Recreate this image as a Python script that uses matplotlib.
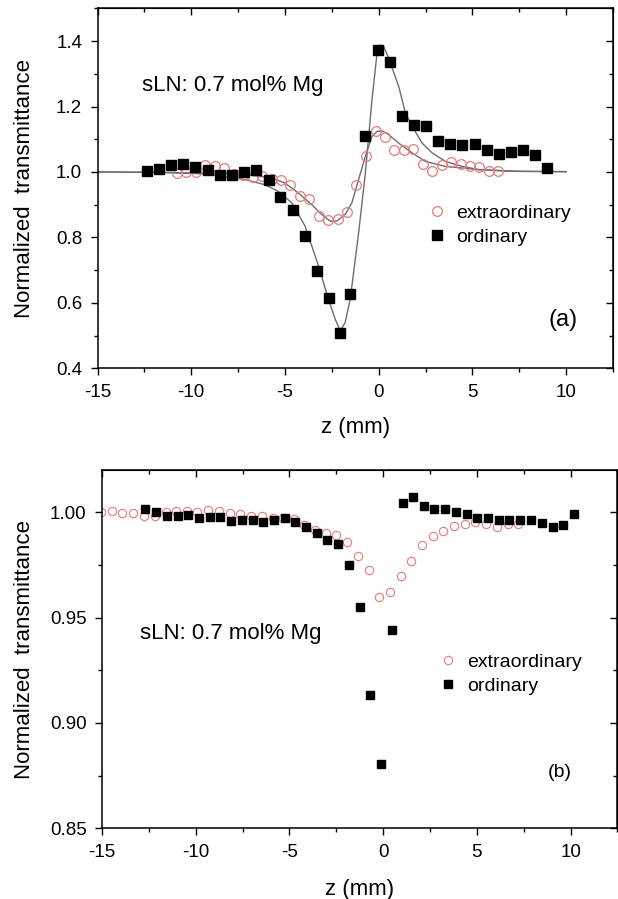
"""Z-scan traces for sLN: 0.7 mol% Mg, panels (a) and (b)."""

import matplotlib
matplotlib.use("Agg")
import matplotlib.pyplot as plt
from matplotlib.ticker import MultipleLocator, FormatStrFormatter

plt.rcParams["font.family"] = ["Liberation Sans", "DejaVu Sans"]
plt.rcParams["axes.unicode_minus"] = False

# panel (a): ordinary (squares) and extraordinary (circles) data plus fit curves
a_ord_z = [-12.37, -11.73, -11.07, -10.43, -9.78, -9.10, -8.48, -7.84, -7.19, -6.55,
           -5.87, -5.25, -4.59, -3.95, -3.30, -2.64, -2.09, -1.52, -0.73, -0.04,
           0.61, 1.23, 1.89, 2.53, 3.18, 3.82, 4.46, 5.12, 5.77, 6.41, 7.07, 7.71, 8.35, 8.98]
a_ord_t = [1.004, 1.009, 1.020, 1.024, 1.015, 1.006, 0.992, 0.990, 0.999, 1.005,
           0.974, 0.923, 0.883, 0.803, 0.697, 0.615, 0.509, 0.628, 1.109, 1.373,
           1.335, 1.171, 1.145, 1.139, 1.095, 1.087, 1.081, 1.085, 1.067, 1.056, 1.060, 1.066, 1.051, 1.012]
a_ext_z = [-10.77, -10.27, -9.77, -9.27, -8.75, -8.23, -7.73, -7.23, -6.70, -6.20,
           -5.71, -5.21, -4.71, -4.21, -3.71, -3.20, -2.68, -2.18, -1.68, -1.20,
           -0.66, -0.16, 0.34, 0.84, 1.34, 1.84, 2.36, 2.86, 3.36, 3.88, 4.38, 4.88, 5.36, 5.88, 6.39]
a_ext_t = [0.996, 1.000, 1.000, 1.020, 1.017, 1.012, 0.995, 0.992, 0.985, 0.987,
           0.980, 0.976, 0.961, 0.926, 0.916, 0.866, 0.853, 0.856, 0.878, 0.959,
           1.048, 1.124, 1.107, 1.068, 1.068, 1.069, 1.025, 1.004, 1.022, 1.029, 1.025, 1.017, 1.014, 1.004, 1.004]
a_ord_fit_z = [-15, -12, -10, -8.93, -7.14, -6.07, -5.36, -4.64, -3.93, -3.21, -2.68, -2.32, -2.05,
               -1.79, -1.52, -1.07, -0.71, -0.36, -0.09, 0.09, 0.27, 0.54, 1.07, 1.43, 1.79,
               2.32, 2.86, 3.57, 4.46, 5.36, 7.14, 10.0]
a_ord_fit_t = [1.000, 0.999, 0.996, 0.992, 0.977, 0.961, 0.941, 0.906, 0.835, 0.713, 0.611, 0.550, 0.515,
               0.540, 0.611, 0.814, 0.997, 1.220, 1.362, 1.388, 1.383, 1.347, 1.261, 1.180, 1.139,
               1.088, 1.058, 1.032, 1.017, 1.007, 1.002, 1.001]
a_ext_fit_z = [-15, -12, -9, -7.14, -5.71, -5.0, -4.29, -3.57, -3.04, -2.59, -2.23, -1.79, -1.43,
               -1.07, -0.71, -0.36, -0.09, 0.18, 0.54, 1.07, 1.79, 2.5, 3.57, 5.36, 7.5, 10.0]
a_ext_fit_t = [1.000, 0.999, 0.996, 0.992, 0.982, 0.966, 0.936, 0.900, 0.870, 0.850, 0.850, 0.870, 0.906,
               0.977, 1.048, 1.109, 1.124, 1.126, 1.114, 1.088, 1.058, 1.032, 1.017, 1.007, 1.002, 1.001]

# panel (b)
b_ord_z = [-12.71, -12.11, -11.52, -10.95, -10.39, -9.82, -9.25, -8.70, -8.11, -7.54,
           -6.96, -6.39, -5.80, -5.25, -4.68, -4.11, -3.54, -2.98, -2.41, -1.82,
           -1.25, -0.68, -0.09, 0.46, 1.04, 1.57, 2.18, 2.73, 3.32, 3.89,
           4.46, 5.02, 5.59, 6.16, 6.73, 7.32, 7.89, 8.48, 9.05, 9.62, 10.2]
b_ord_t = [1.0013, 1.0003, 0.9983, 0.9984, 0.9987, 0.9973, 0.9976, 0.9976, 0.9956, 0.9965,
           0.9961, 0.9953, 0.9961, 0.9972, 0.9953, 0.9929, 0.9902, 0.9869, 0.9850, 0.9747,
           0.9551, 0.9134, 0.8807, 0.9441, 1.0043, 1.0074, 1.0031, 1.0013, 1.0013, 1.0000,
           0.9992, 0.9973, 0.9973, 0.9964, 0.9965, 0.9964, 0.9961, 0.9950, 0.9930, 0.9940, 0.9990]
b_ext_z = [-15.03, -14.46, -13.93, -13.36, -12.77, -12.18, -11.61, -11.04, -10.48, -9.91, -9.32,
           -8.75, -8.18, -7.63, -7.05, -6.46, -5.89, -5.32, -4.77, -4.20, -3.63,
           -3.04, -2.50, -1.91, -1.34, -0.77, -0.21, 0.36, 0.93, 1.48, 2.05,
           2.64, 3.21, 3.79, 4.38, 4.91, 5.50, 6.07, 6.66, 7.20]
b_ext_t = [1.0000, 1.0005, 0.9995, 0.9995, 0.9984, 0.9984, 1.0000, 1.0005, 1.0005, 1.0000, 1.0008,
           1.0005, 0.9995, 0.9989, 0.9984, 0.9984, 0.9973, 0.9973, 0.9969, 0.9940, 0.9917,
           0.9901, 0.9890, 0.9858, 0.9791, 0.9725, 0.9599, 0.9622, 0.9696, 0.9769, 0.9843,
           0.9887, 0.9910, 0.9932, 0.9942, 0.9953, 0.9942, 0.9929, 0.9942, 0.9945]

EXT_COLOR = "#e47c7c"
FIT_COLOR = "#6e6e6e"


def style_axis(ax, ymajor, yminor, yfmt, label_x, label_y):
    ax.set_xlim(-15, 12.5)
    ax.xaxis.set_major_locator(MultipleLocator(5))
    ax.xaxis.set_minor_locator(MultipleLocator(2.5))
    ax.yaxis.set_major_locator(MultipleLocator(ymajor))
    ax.yaxis.set_minor_locator(MultipleLocator(yminor))
    ax.yaxis.set_major_formatter(FormatStrFormatter(yfmt))
    ax.tick_params(which="both", direction="out", top=False, right=False, width=1.0, labelsize=13.5)
    ax.tick_params(which="major", length=5, pad=6)
    ax.tick_params(which="minor", length=3)
    for spine in ax.spines.values():
        spine.set_linewidth(1.1)
    top = ax.secondary_xaxis("top")
    top.xaxis.set_major_locator(MultipleLocator(5))
    top.xaxis.set_minor_locator(MultipleLocator(2.5))
    top.tick_params(which="both", direction="in", labeltop=False, width=1.0)
    top.tick_params(which="major", length=5)
    top.tick_params(which="minor", length=3)
    right = ax.secondary_yaxis("right")
    right.yaxis.set_major_locator(MultipleLocator(ymajor))
    right.yaxis.set_minor_locator(MultipleLocator(yminor))
    right.tick_params(which="both", direction="in", labelright=False, width=1.0)
    right.tick_params(which="major", length=5)
    right.tick_params(which="minor", length=3)
    ax.set_xlabel("z (mm)", fontsize=16)
    ax.set_ylabel("Normalized  transmittance", fontsize=16)
    ax.xaxis.set_label_coords(0.5, label_y)
    ax.yaxis.set_label_coords(label_x, 0.5)


fig = plt.figure(figsize=(6.18, 8.99), dpi=100)

ax1 = fig.add_axes([0.1578, 0.5903, 0.8341, 0.4004])
ax1.plot(a_ord_fit_z, a_ord_fit_t, color=FIT_COLOR, lw=1.0, zorder=1)
ax1.plot(a_ext_fit_z, a_ext_fit_t, color=FIT_COLOR, lw=1.0, zorder=1)
ax1.plot(a_ext_z, a_ext_t, ls="none", marker="o", ms=7, mfc="none", mec=EXT_COLOR, mew=0.9,
         label="extraordinary", zorder=2)
ax1.plot(a_ord_z, a_ord_t, ls="none", marker="s", ms=6.5, color="black", label="ordinary", zorder=3)
ax1.set_ylim(0.4, 1.5)
style_axis(ax1, 0.2, 0.1, "%.1f", -0.121, -0.135)
ax1.text(0.086, 0.787, "sLN: 0.7 mol% Mg", transform=ax1.transAxes, fontsize=16, va="center")
ax1.text(0.874, 0.134, "(a)", transform=ax1.transAxes, fontsize=17, va="center")
ax1.legend(loc="upper left", bbox_to_anchor=(0.640, 0.455), frameon=False, fontsize=14,
           handlelength=1.0, handletextpad=0.5, labelspacing=0.3, borderpad=0, borderaxespad=0)

ax2 = fig.add_axes([0.165, 0.0786, 0.8341, 0.3986])
ax2.plot(b_ext_z, b_ext_t, ls="none", marker="o", ms=6, mfc="none", mec=EXT_COLOR, mew=0.8,
         label="extraordinary", zorder=2)
ax2.plot(b_ord_z, b_ord_t, ls="none", marker="s", ms=5.3, color="black", label="ordinary", zorder=3)
ax2.set_ylim(0.85, 1.02)
style_axis(ax2, 0.05, 0.025, "%.2f", -0.130, -0.142)
ax2.text(0.074, 0.545, "sLN: 0.7 mol% Mg", transform=ax2.transAxes, fontsize=16, va="center")
ax2.text(0.865, 0.157, "(b)", transform=ax2.transAxes, fontsize=14, va="center")
ax2.legend(loc="upper left", bbox_to_anchor=(0.652, 0.488), frameon=False, fontsize=14,
           handlelength=1.0, handletextpad=0.5, labelspacing=0.3, borderpad=0, borderaxespad=0)

fig.savefig("out.png", dpi=100)
